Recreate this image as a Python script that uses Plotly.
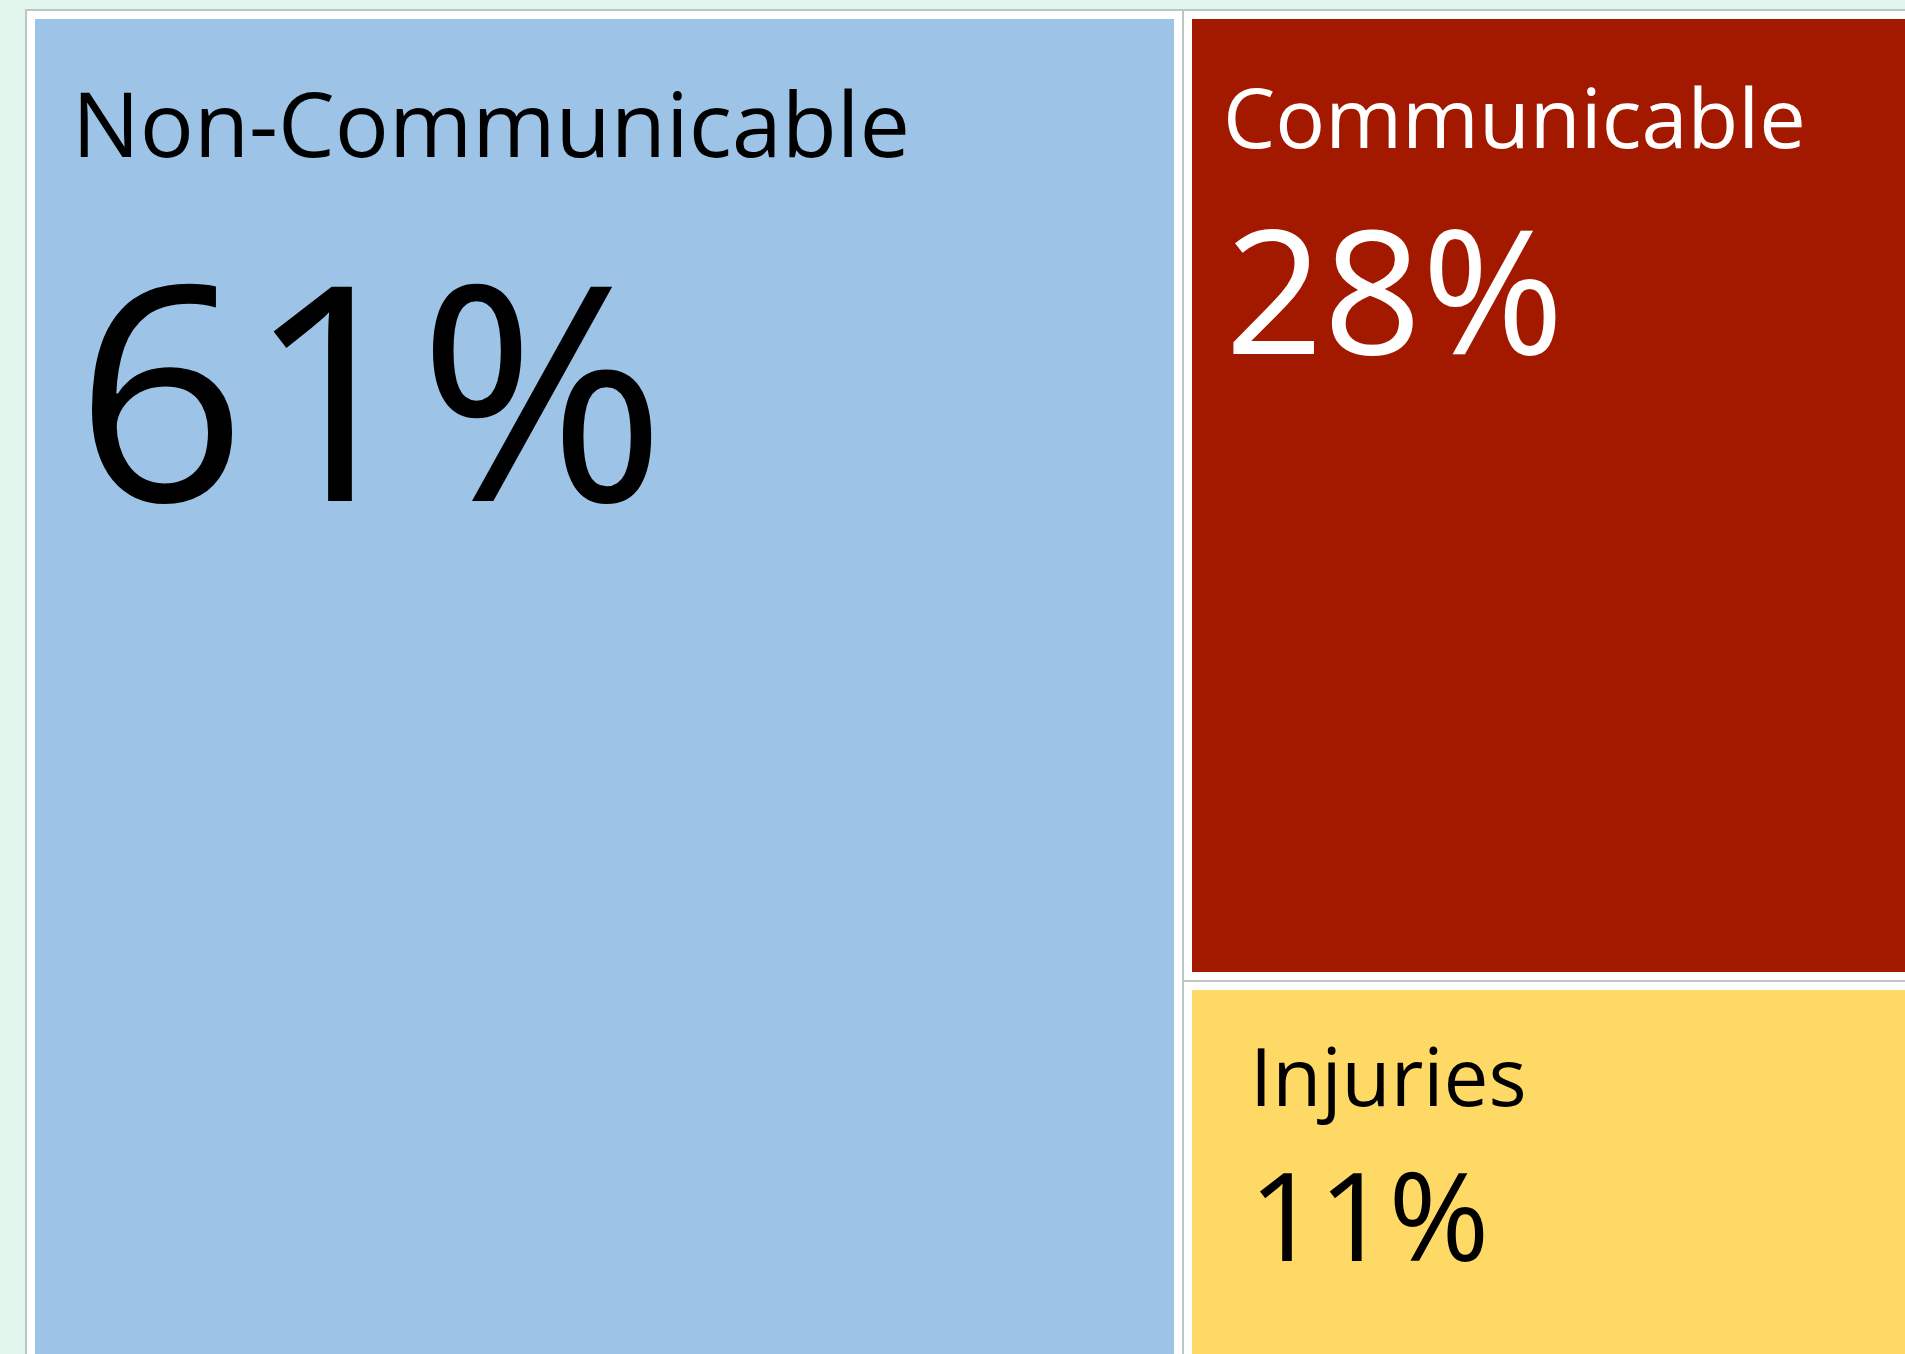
import plotly.graph_objects as go

# Share of deaths by cause group (percent)
categories = ["Non-Communicable", "Communicable", "Injuries"]
shares = [61, 28, 11]
tile_colors = ["#9DC3E6", "#A21900", "#FFD966"]
text_colors = ["#000000", "#FFFFFF", "#000000"]

# Page geometry (pixels) used to map share units onto the screen
W, H = 1905, 1354
LEFT_PX, TOP_PX = 26, 10
PX_PER_X, PX_PER_Y = 18.96, 13.53
GAP_PX = 9
FONT = "Open Sans"

# Treemap tiling: largest share takes a full-height column, the rest split it
ncd, cd, inj = shares
col_x0 = ncd
inj_h = 100 * inj / (cd + inj)
tiles = [
    dict(x0=0, x1=ncd, y0=0, y1=100),
    dict(x0=col_x0, x1=100, y0=inj_h, y1=100),
    dict(x0=col_x0, x1=100, y0=0, y1=inj_h),
]

gx = GAP_PX / PX_PER_X
gy = GAP_PX / PX_PER_Y

fig = go.Figure()

# White framed cells with a thin grey outline
fig.add_trace(go.Bar(
    x=[(t["x0"] + t["x1"]) / 2 for t in tiles],
    y=[t["y1"] - t["y0"] for t in tiles],
    base=[t["y0"] for t in tiles],
    width=[t["x1"] - t["x0"] for t in tiles],
    marker=dict(color="#FFFFFF", line=dict(color="#B9C8C3", width=2)),
    hoverinfo="skip", showlegend=False,
))

# Coloured tiles inset inside each frame
fig.add_trace(go.Bar(
    x=[(t["x0"] + t["x1"]) / 2 for t in tiles],
    y=[t["y1"] - t["y0"] - 2 * gy for t in tiles],
    base=[t["y0"] + gy for t in tiles],
    width=[t["x1"] - t["x0"] - 2 * gx for t in tiles],
    marker=dict(color=tile_colors, line=dict(width=0)),
    customdata=categories,
    hovertemplate="%{customdata}<extra></extra>",
    showlegend=False,
))

# Labels: category name and share, anchored to each tile's top-left corner
label_style = [
    # (name size, name dx, name dy, value size, value dx, value dy)
    (90, 44, -49, 300, 47, -168),
    (83, 38, -47, 172, 40, -158),
    (80, 65, -37, 122, 64, -148),
]
annotations = []
for cat, share, t, fc, st in zip(categories, shares, tiles, text_colors, label_style):
    ns, ndx, ndy, vs, vdx, vdy = st
    annotations.append(dict(
        x=t["x0"], y=t["y1"], xref="x", yref="y", xanchor="left", yanchor="top",
        xshift=ndx, yshift=ndy, text=cat, showarrow=False,
        font=dict(family=FONT, size=ns, color=fc),
    ))
    annotations.append(dict(
        x=t["x0"], y=t["y1"], xref="x", yref="y", xanchor="left", yanchor="top",
        xshift=vdx, yshift=vdy, text=f"{share}%", showarrow=False,
        font=dict(family=FONT, size=vs, color=fc),
    ))

x_min = -LEFT_PX / PX_PER_X
x_max = x_min + W / PX_PER_X
y_max = 100 + TOP_PX / PX_PER_Y
y_min = y_max - H / PX_PER_Y

fig.update_layout(
    width=W, height=H,
    margin=dict(l=0, r=0, t=0, b=0, pad=0),
    paper_bgcolor="#E2F6EE",
    plot_bgcolor="rgba(0,0,0,0)",
    barmode="overlay",
    bargap=0,
    xaxis=dict(range=[x_min, x_max], visible=False, fixedrange=True),
    yaxis=dict(range=[y_min, y_max], visible=False, fixedrange=True),
    annotations=annotations,
)

fig.write_html("out.html", config={"displayModeBar": False})
